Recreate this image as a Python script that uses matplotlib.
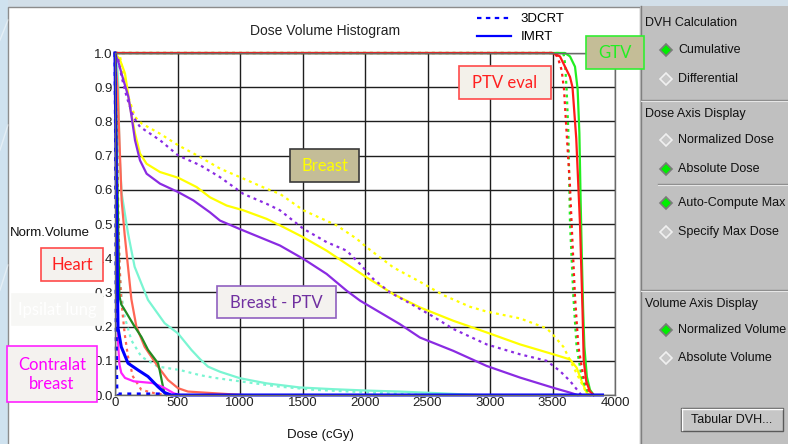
import matplotlib.pyplot as plt
import numpy as np
from matplotlib.patches import Rectangle
from matplotlib.lines import Line2D

plt.rcParams['font.family'] = ['Liberation Sans', 'DejaVu Sans']

# ---- DVH data (dose in cGy, normalized volume) ----
# PTV eval (red)
ptv_imrt_dose = [0, 3500, 3560, 3600, 3640, 3660, 3690, 3720, 3740, 3750, 3770, 3800, 3830]
ptv_imrt_vol = [1.0, 1.0, 0.99, 0.96, 0.93, 0.9, 0.75, 0.5, 0.25, 0.1, 0.04, 0.01, 0.0]
ptv_3d_dose = [0, 3500, 3540, 3573, 3592, 3613, 3640, 3653, 3680, 3707, 3747, 3787, 3810]
ptv_3d_vol = [1.0, 1.0, 0.99, 0.95, 0.894, 0.766, 0.61, 0.5, 0.287, 0.141, 0.053, 0.015, 0.0]

# GTV (green)
gtv_imrt_dose = [0, 3600, 3640, 3680, 3701, 3715, 3725, 3735, 3745, 3755, 3775, 3800, 3830]
gtv_imrt_vol = [1.0, 1.0, 0.99, 0.96, 0.894, 0.766, 0.57, 0.4, 0.25, 0.141, 0.053, 0.015, 0.0]
gtv_3d_dose = [0, 3560, 3590, 3600, 3613, 3627, 3640, 3667, 3693, 3733, 3773, 3800]
gtv_3d_vol = [1.0, 1.0, 0.995, 0.97, 0.894, 0.766, 0.503, 0.287, 0.141, 0.053, 0.015, 0.0]

# Breast (yellow)
breast_imrt_dose = [0, 40, 80, 120, 160, 200, 253, 360, 507, 653, 760, 893, 1027, 1213, 1320,
                    1507, 1693, 1853, 2013, 2227, 2440, 2707, 2973, 3240, 3507, 3640, 3693,
                    3733, 3773, 3800]
breast_imrt_vol = [1.0, 0.98, 0.94, 0.843, 0.765, 0.706, 0.676, 0.652, 0.635, 0.608, 0.578,
                   0.554, 0.54, 0.515, 0.496, 0.461, 0.422, 0.383, 0.344, 0.295, 0.256, 0.217,
                   0.183, 0.148, 0.119, 0.104, 0.08, 0.041, 0.007, 0.0]
breast_3d_dose = [0, 40, 67, 107, 160, 213, 360, 507, 680, 840, 1000, 1213, 1320, 1507, 1773,
                  1933, 2013, 2227, 2440, 2627, 2840, 2973, 3240, 3453, 3507, 3587, 3640, 3693,
                  3747, 3780]
breast_3d_vol = [1.0, 0.99, 0.94, 0.872, 0.813, 0.794, 0.764, 0.73, 0.696, 0.662, 0.637, 0.603,
                 0.588, 0.54, 0.496, 0.457, 0.432, 0.373, 0.331, 0.292, 0.258, 0.244, 0.224,
                 0.195, 0.175, 0.141, 0.102, 0.063, 0.024, 0.0]

# Breast - PTV (purple)
bptv_imrt_dose = [0, 30, 60, 107, 133, 160, 200, 253, 360, 507, 627, 760, 840, 1000, 1160, 1320,
                  1507, 1693, 1853, 1960, 2280, 2440, 2707, 2973, 3240, 3507, 3640, 3700]
bptv_imrt_vol = [1.0, 0.97, 0.93, 0.872, 0.813, 0.745, 0.686, 0.647, 0.618, 0.593, 0.569, 0.534,
                 0.51, 0.485, 0.461, 0.437, 0.398, 0.354, 0.305, 0.276, 0.207, 0.168, 0.129,
                 0.085, 0.051, 0.021, 0.007, 0.0]
bptv_3d_dose = [0, 27, 53, 93, 147, 200, 360, 507, 680, 840, 1027, 1213, 1320, 1507, 1693, 1853,
                1960, 2067, 2200, 2360, 2547, 2707, 2973, 3240, 3453, 3560, 3640, 3693, 3730]
bptv_3d_vol = [1.0, 0.98, 0.93, 0.872, 0.813, 0.784, 0.745, 0.70, 0.672, 0.637, 0.588, 0.559,
               0.54, 0.486, 0.447, 0.422, 0.383, 0.339, 0.30, 0.268, 0.229, 0.193, 0.148, 0.119,
               0.1, 0.07, 0.041, 0.017, 0.0]

# Heart (salmon red)
heart_imrt_dose = [0, 20, 40, 53, 77, 104, 131, 171, 237, 344, 424, 504, 584, 800, 1020]
heart_imrt_vol = [1.0, 0.9, 0.7, 0.57, 0.47, 0.375, 0.28, 0.2, 0.141, 0.083, 0.044, 0.02, 0.01,
                  0.005, 0.0]
heart_3d_dose = [0, 15, 24, 30, 37, 50, 77, 104, 144, 211, 318, 420]
heart_3d_vol = [1.0, 0.8, 0.57, 0.47, 0.375, 0.278, 0.18, 0.112, 0.054, 0.015, 0.005, 0.0]

# Ipsilateral lung (aquamarine)
lung_imrt_dose = [0, 20, 27, 35, 53, 64, 104, 157, 264, 397, 504, 611, 680, 744, 840, 1000, 1213,
                  1480, 1747, 2013, 2280, 2600, 2900]
lung_imrt_vol = [1.0, 0.95, 0.9, 0.71, 0.59, 0.565, 0.473, 0.375, 0.278, 0.21, 0.18, 0.132,
                 0.105, 0.083, 0.068, 0.049, 0.034, 0.022, 0.017, 0.013, 0.01, 0.005, 0.0]
lung_3d_dose = [0, 20, 30, 40, 50, 77, 131, 211, 344, 520, 680, 800, 1000, 1300, 1600, 2000,
                2500]
lung_3d_vol = [1.0, 0.7, 0.45, 0.35, 0.297, 0.229, 0.16, 0.112, 0.083, 0.073, 0.058, 0.05, 0.04,
               0.025, 0.015, 0.008, 0.0]

# Dark green structure
dg_dose = [0, 20, 35, 50, 77, 157, 211, 264, 344, 357, 384, 397, 410]
dg_vol = [1.0, 0.6, 0.29, 0.265, 0.249, 0.2, 0.17, 0.132, 0.093, 0.073, 0.024, 0.005, 0.0]

# Contralateral breast (magenta)
cbreast_dose = [0, 15, 25, 35, 50, 80, 150, 300, 390, 470, 520]
cbreast_vol = [1.0, 0.5, 0.15, 0.09, 0.065, 0.05, 0.04, 0.035, 0.022, 0.005, 0.0]

# Blue structure
blue_imrt_dose = [0, 8, 15, 24, 50, 104, 184, 264, 344, 397, 450, 3900]
blue_imrt_vol = [1.0, 0.7, 0.45, 0.196, 0.141, 0.093, 0.073, 0.054, 0.024, 0.007, 0.0, 0.0]
blue_3d_dose = [0, 5, 10, 15, 25, 350, 500]
blue_3d_vol = [1.0, 0.72, 0.15, 0.01, 0.003, 0.003, 0.0]

x_ticks = np.arange(0, 4001, 500)
y_ticks = np.round(np.arange(0, 1.01, 0.1), 1)

DASH = (0, (1.3, 1.8))
LW = 1.6

fig = plt.figure(figsize=(7.88, 4.44), dpi=100)
fig.patch.set_facecolor('#d2dfe9')

# ---- background: screenshot frame and control panel ----
bg = fig.add_axes([0, 0, 1, 1], zorder=0)
bg.set_xlim(0, 788)
bg.set_ylim(444, 0)
bg.axis('off')
bg.add_patch(Rectangle((0, 0), 8, 444, fc='#cfe2ef', ec='none'))
for x0, y0, x1, y1 in [(0, 40, 8, 20), (0, 150, 8, 125), (0, 290, 8, 265)]:
    bg.plot([x0, x1], [y0, y1], color='white', lw=1, alpha=0.45)
bg.add_patch(Rectangle((8, 7), 632, 440, fc='white', ec='#8c8c8c', lw=1))
bg.add_patch(Rectangle((640, 6), 150, 440, fc='#c0c0c0', ec='none'))
bg.plot([641, 641], [6, 444], color='#808080', lw=1)
for y, xs in [(100, 641), (184, 658), (290, 641)]:
    bg.plot([xs, 788], [y, y], color='#8a8a8a', lw=1)
    bg.plot([xs, 788], [y + 1, y + 1], color='#e6e6e6', lw=0.8)

panel_items = [
    ('DVH Calculation', 23, None),
    ('Cumulative', 50, True),
    ('Differential', 79, False),
    ('Dose Axis Display', 114, None),
    ('Normalized Dose', 140, False),
    ('Absolute Dose', 169, True),
    ('Auto-Compute Max', 203, True),
    ('Specify Max Dose', 232, False),
    ('Volume Axis Display', 304, None),
    ('Normalized Volume', 330, True),
    ('Absolute Volume', 358, False),
]
for label, y, sel in panel_items:
    if sel is None:
        bg.text(645, y, label, fontsize=9, va='center', ha='left', color='#111111')
    else:
        bg.plot([666], [y], marker='D', ms=6.5,
                mfc='#00ee00' if sel else '#c8c8c8',
                mec='#7a7a7a' if sel else '#f0f0f0', mew=1.2)
        bg.text(678, y, label, fontsize=9, va='center', ha='left', color='#111111')

bg.add_patch(Rectangle((681, 408), 102, 23, fc='#c6c6c6', ec='#5a5a5a', lw=1))
bg.plot([682, 782], [409, 409], color='white', lw=1)
bg.plot([682, 682], [409, 430], color='white', lw=1)
bg.text(732, 419.5, 'Tabular DVH...', fontsize=9, ha='center', va='center', color='#111111')

bg.text(325, 31, 'Dose Volume Histogram', fontsize=10, ha='center', va='center', color='#222222')
bg.text(10, 233, 'Norm.Volume', fontsize=9.5, ha='left', va='center', color='#111111')
bg.text(320, 435, 'Dose (cGy)', fontsize=9.5, ha='center', va='center', color='#111111')

# ---- DVH axes ----
ax = fig.add_axes([115 / 788, 49 / 444, 500 / 788, 342 / 444], zorder=1)
ax.set_facecolor('white')
ax.set_xlim(0, 4000)
ax.set_ylim(0, 1.0)
ax.set_xticks(x_ticks)
ax.set_xticklabels([str(v) for v in x_ticks])
ax.set_yticks(y_ticks)
ax.set_yticklabels([f'{v:.1f}' for v in y_ticks])
ax.tick_params(length=0, pad=1.5, labelsize=9.5, colors='#222222')
ax.grid(True, color='#1e1e1e', lw=1)
ax.set_axisbelow(True)
for s in ax.spines.values():
    s.set_color('#6a6a6a')
    s.set_linewidth(1)

curves = [
    (lung_imrt_dose, lung_imrt_vol, '#7af5d2', '-'),
    (lung_3d_dose, lung_3d_vol, '#7af5d2', DASH),
    (heart_imrt_dose, heart_imrt_vol, '#ff6655', '-'),
    (heart_3d_dose, heart_3d_vol, '#ff6655', DASH),
    (dg_dose, dg_vol, '#228b22', '-'),
    (cbreast_dose, cbreast_vol, '#ff22ff', '-'),
    (breast_3d_dose, breast_3d_vol, '#ffff00', DASH),
    (breast_imrt_dose, breast_imrt_vol, '#ffff00', '-'),
    (bptv_3d_dose, bptv_3d_vol, '#8a2be2', DASH),
    (bptv_imrt_dose, bptv_imrt_vol, '#8a2be2', '-'),
    (gtv_3d_dose, gtv_3d_vol, '#22ee22', DASH),
    (gtv_imrt_dose, gtv_imrt_vol, '#22ee22', '-'),
    (ptv_3d_dose, ptv_3d_vol, '#ff1a1a', DASH),
    (ptv_imrt_dose, ptv_imrt_vol, '#ff1a1a', '-'),
    (blue_3d_dose, blue_3d_vol, '#0000ff', DASH),
    (blue_imrt_dose, blue_imrt_vol, '#0000ff', '-'),
]
for d, v, c, ls in curves:
    lw = 2.2 if c == '#0000ff' else LW
    ax.plot(d, v, color=c, ls=ls, lw=lw, clip_on=False)

handles = [Line2D([], [], color='#0000ff', ls=(0, (2, 2)), lw=1.6),
           Line2D([], [], color='#0000ff', ls='-', lw=1.6)]
ax.legend(handles, ['3DCRT', 'IMRT'], loc='upper left',
          bbox_to_anchor=(477 / 788, 1 - 13 / 444), bbox_transform=fig.transFigure,
          frameon=False, fontsize=9.5, handlelength=2.6, handletextpad=0.7,
          labelspacing=0.45, borderpad=0, borderaxespad=0)

# ---- annotation boxes ----
ov = fig.add_axes([0, 0, 1, 1], zorder=2)
ov.set_xlim(0, 788)
ov.set_ylim(444, 0)
ov.axis('off')
ov.patch.set_alpha(0)

boxes = [
    ('GTV', 586, 36, 58, 33, '#c4bd97', '#33ee33', '#22ee22'),
    ('PTV eval', 459, 66, 92, 33, '#f3f1ea', '#ff4a4a', '#ff2020'),
    ('Breast', 290, 149, 69, 33, '#c4bd97', '#3a3a3a', '#ffff00'),
    ('Heart', 41, 248, 62, 33, '#f4f2ee', '#ff4a4a', '#ff2020'),
    ('Ipsilat lung', 12, 294, 91, 31, '#f7f7f5', '#f7f7f5', '#ffffff'),
    ('Breast - PTV', 217, 286, 119, 32, '#f4f2ef', '#9060c0', '#7030a0'),
    ('Contralat\nbreast', 7, 346, 90, 56, '#f4f2ef', '#ff22ff', '#ff00ff'),
]
for txt, x, y, w, h, fc, ec, tc in boxes:
    ov.add_patch(Rectangle((x, y), w, h, fc=fc, ec=ec, lw=1.2))
    ov.text(x + w / 2, y + h / 2 + 0.5, txt, fontsize=12, family=['Lato', 'DejaVu Sans'],
            ha='center', va='center', color=tc, linespacing=1.3)

fig.savefig('out.png', dpi=100)
